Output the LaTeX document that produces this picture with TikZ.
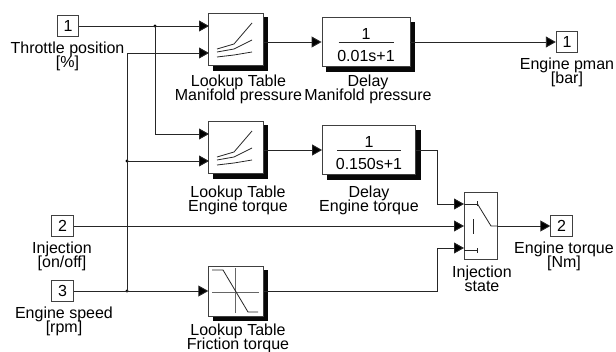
\documentclass[tikz,border=0pt]{standalone}
\usepackage{fontspec}
\setmainfont{Liberation Sans}
\usetikzlibrary{arrows.meta}
\definecolor{shadowgray}{rgb}{0.03,0.03,0.03}
\newcommand{\diagramfont}{\fontsize{16}{14}\selectfont\setlength{\lineskiplimit}{-20pt}\relax}
\tikzset{
  sig/.style={draw=black!85, line width=0.9pt, -{Triangle[length=10pt,width=11pt,fill=black]}},
  port/.style={draw=black!75, line width=0.9pt, fill=white, minimum width=21.5pt, minimum height=21.5pt, inner sep=0pt},
  blockbox/.style={draw=black!75, line width=0.9pt, fill=white, inner sep=0pt},
  shadebox/.style={draw=shadowgray, fill=shadowgray, line width=0.9pt, inner sep=0pt},
  lutbox/.style={minimum width=54.5pt, minimum height=52.5pt},
  label/.style={align=center, inner sep=0pt},
  junct/.style={circle, fill=black, inner sep=0pt, minimum size=3.2pt},
  icon/.style={draw=black!85, line width=0.8pt},
  axisline/.style={draw=black!60, line width=0.8pt}
}
% table curves, relative to the block centre
\newcommand{\luticon}[1]{
  \draw[icon, shift={(#1.center)}] (-19,9.5) -- (-2,4.5) -- (16,-16.5);
  \draw[icon, shift={(#1.center)}] (-19,12.5) -- (-2,9.5) -- (16,0.5);
  \draw[icon, shift={(#1.center)}] (-19,17.5) -- (-2,15.5) -- (16,12.5);
}
\begin{document}
\begin{tikzpicture}[x=1pt, y=-1pt, font=\diagramfont]
  \useasboundingbox (0,0) rectangle (616,351);

  % Inports
  \node[port] (inA) at (68,26) {1};
  \node[port] (inB) at (62.5,226) {2};
  \node[port] (inC) at (62.5,291) {3};
  \node[label] (inAlabel) at (67.5,56.5) {Throttle position\\{}[\%]};
  \node[label] (inBlabel) at (62,256.5) {Injection\\{}[on/off]};
  \node[label] (inClabel) at (64,321.5) {Engine speed\\{}[rpm]};

  % Lookup tables
  \node[shadebox, lutbox] (lutAshade) at (240.5,44) {};
  \node[shadebox, lutbox] (lutBshade) at (240.5,152) {};
  \node[shadebox, lutbox, minimum height=50pt] (lutCshade) at (240.5,295.5) {};
  \node[blockbox, lutbox] (lutA) at (236,39.5) {};
  \node[blockbox, lutbox] (lutB) at (236,147.5) {};
  \node[blockbox, lutbox, minimum height=50pt] (lutC) at (236,291) {};
  \luticon{lutA}
  \luticon{lutB}
  \draw[axisline, shift={(lutC.center)}] (-24,1) -- (23,1);
  \draw[axisline, shift={(lutC.center)}] (-0.5,-23) -- (-0.5,22);
  \draw[icon, shift={(lutC.center)}] (-24,-21) -- (-13,-21) -- (12,21) -- (22,21);
  \node[label] (lutAlabel) at (238.5,89.5) {Lookup Table\\Manifold pressure};
  \node[label] (lutBlabel) at (238,200) {Lookup Table\\Engine torque};
  \node[label] (lutClabel) at (238,338.5) {Lookup Table\\Friction torque};

  % Delays
  \node[shadebox, minimum width=88pt, minimum height=49pt] (delayAshade) at (370.5,46.5) {};
  \node[shadebox, minimum width=93pt, minimum height=49pt] (delayBshade) at (373.5,154.5) {};
  \node[blockbox, minimum width=88pt, minimum height=49pt] (delayA) at (366,42) {};
  \node[blockbox, minimum width=93pt, minimum height=49pt] (delayB) at (369,150) {};
  \node[inner sep=0pt] (delayAnum) at (366,34) {1};
  \node[inner sep=0pt] (delayAden) at (366,56) {0.01s+1};
  \node[inner sep=0pt] (delayBnum) at (369,142) {1};
  \node[inner sep=0pt] (delayBden) at (369,164) {0.150s+1};
  \draw[icon, shift={(delayA.center)}] (-27.5,0.5) -- (27.5,0.5);
  \draw[icon, shift={(delayB.center)}] (-32,0.5) -- (32,0.5);
  \node[label] (delayAlabel) at (368,89.5) {Delay\\Manifold pressure};
  \node[label] (delayBlabel) at (369,200) {Delay\\Engine torque};

  % Switch
  \node[draw=black!75, line width=0.9pt, fill=white, minimum width=33pt, minimum height=67pt, inner sep=0pt] (swt) at (480.5,226) {};
  \draw[icon, shift={(swt.center)}] (-16.5,-22) -- (-3,-22) (-3,-25) -- (-3,-20);
  \draw[icon, shift={(swt.center)}] (-3,-22) -- (10.5,0) -- (16.5,0);
  \draw[icon, shift={(swt.center)}] (-7,-7) -- (-7,8);
  \draw[icon, shift={(swt.center)}] (-16.5,24) -- (-3,24) (-3,22) -- (-3,27);
  \node[label] (swtlabel) at (482,278.5) {Injection\\state};

  % Outports
  \node[port] (outA) at (567,42) {1};
  \node[port] (outB) at (561.5,226) {2};
  \node[label] (outAlabel) at (567,72.5) {Engine pman\\{}[bar]};
  \node[label] (outBlabel) at (564,256.5) {Engine torque\\{}[Nm]};

  % Junctions and port positions
  \node[junct] (jA) at (155,26) {};
  \node[junct] (jB) at (127,161) {};
  \node[junct] (jC) at (127,291) {};
  \coordinate (lutAtop) at (209,26);
  \coordinate (lutAbot) at (209,53);
  \coordinate (lutBtop) at (209,134);
  \coordinate (lutBbot) at (209,161);
  \coordinate (swtTop) at (464,204);
  \coordinate (swtMid) at (464,226);
  \coordinate (swtBot) at (464,248);
  \coordinate (bendA) at (437,150);
  \coordinate (bendB) at (437,291);

  % Signals
  \draw[sig] (inA.east) -- (lutAtop);
  \draw[sig] (jA.center) |- (lutBtop);
  \draw[sig] (inC.east) -- (lutC.west);
  \draw[sig] (jC.center) |- (lutAbot);
  \draw[sig] (jB.center) -- (lutBbot);
  \draw[sig] (lutA.east |- delayA.west) -- (delayA.west);
  \draw[sig] (lutB.east |- delayB.west) -- (delayB.west);
  \draw[sig] (delayA.east) -- (outA.west);
  \draw[sig] (delayB.east) -- (bendA) |- (swtTop);
  \draw[sig] (inB.east) -- (swtMid);
  \draw[sig] (lutC.east) -- (bendB) |- (swtBot);
  \draw[sig] (swt.east) -- (outB.west);
\end{tikzpicture}
\end{document}
